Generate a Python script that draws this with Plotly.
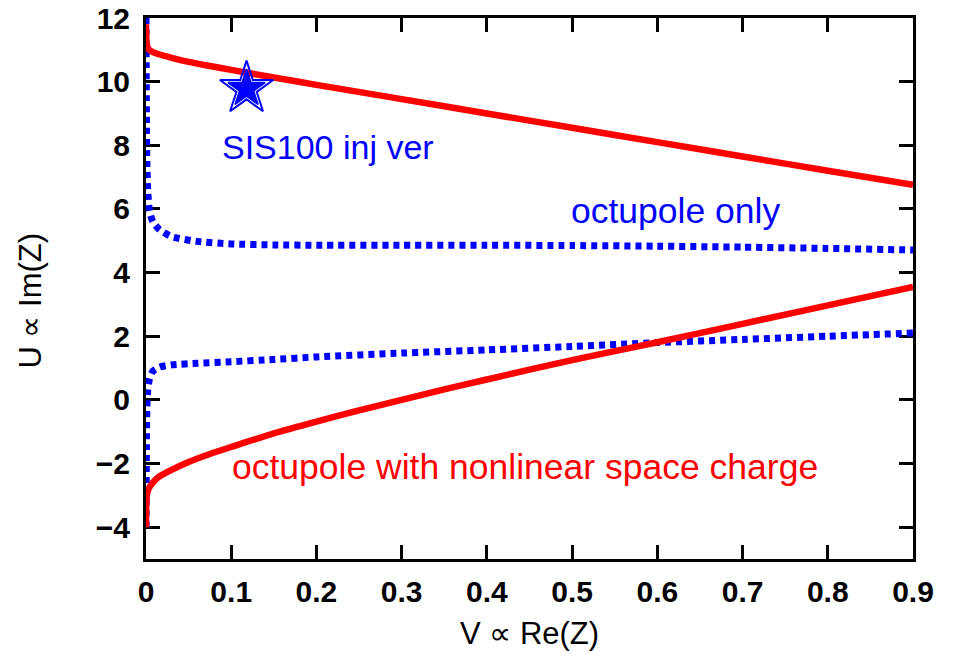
import plotly.graph_objects as go

# Stability boundaries: U (∝ Im Z) versus V (∝ Re Z)
oct_x = [0, 0.0005, 0.001, 0.002, 0.004, 0.008, 0.016, 0.03, 0.06, 0.1,
         0.15, 0.2, 0.3, 0.4, 0.5, 0.6, 0.7, 0.8, 0.9]
oct_upper = [12.0, 9.0, 7.5, 6.6, 5.95, 5.6, 5.35, 5.13, 4.98, 4.9,
             4.87, 4.86, 4.86, 4.86, 4.85, 4.83, 4.8, 4.76, 4.71]
oct_lower = [-4.0, -1.5, -0.3, 0.3, 0.65, 0.9, 1.03, 1.1, 1.15, 1.2,
             1.27, 1.35, 1.47, 1.57, 1.68, 1.8, 1.9, 2.0, 2.1]

sc_upper_x = [0, 0.0003, 0.001, 0.003, 0.008, 0.015, 0.03, 0.05, 0.075, 0.1,
              0.15, 0.2, 0.3, 0.4, 0.5, 0.6, 0.7, 0.8, 0.9]
sc_upper = [11.8, 11.4, 11.15, 11.02, 10.93, 10.86, 10.75, 10.62, 10.49, 10.37,
            10.13, 9.9, 9.45, 9.0, 8.55, 8.1, 7.65, 7.2, 6.76]
sc_lower_x = [0, 0.0003, 0.001, 0.003, 0.008, 0.015, 0.03, 0.05, 0.075, 0.1,
              0.15, 0.2, 0.25, 0.3, 0.35, 0.4, 0.45, 0.5, 0.55, 0.6,
              0.7, 0.8, 0.9]
sc_lower = [-4.0, -3.3, -3.0, -2.8, -2.6, -2.42, -2.2, -1.95, -1.7, -1.48,
            -1.05, -0.68, -0.33, 0.0, 0.33, 0.64, 0.95, 1.25, 1.53, 1.81,
            2.39, 2.97, 3.55]

# Working point
inj_point = (0.118, 9.78)

x_ticks = [0, 0.1, 0.2, 0.3, 0.4, 0.5, 0.6, 0.7, 0.8, 0.9]
x_tick_text = ["0", "0.1", "0.2", "0.3", "0.4", "0.5", "0.6", "0.7", "0.8", "0.9"]
y_ticks = [-4, -2, 0, 2, 4, 6, 8, 10, 12]

BLUE = "#0000ff"
RED = "#ff0000"
FONT = "Liberation Sans, Arial, sans-serif"

fig = go.Figure()

for ys in (oct_upper, oct_lower):
    fig.add_trace(go.Scatter(
        x=oct_x, y=ys, mode="lines",
        line=dict(color=BLUE, width=7, dash="6px,5px", shape="spline",
                  smoothing=0.6),
        showlegend=False, hoverinfo="skip"))

for xs, ys in ((sc_upper_x, sc_upper), (sc_lower_x, sc_lower)):
    fig.add_trace(go.Scatter(
        x=xs, y=ys, mode="lines",
        line=dict(color=RED, width=6.5, shape="spline", smoothing=0.6),
        showlegend=False, hoverinfo="skip"))

# double-outlined star: open outer star with a filled star inside
fig.add_trace(go.Scatter(
    x=[inj_point[0]], y=[inj_point[1]], mode="markers",
    marker=dict(symbol="star-open", size=40, color=BLUE,
                line=dict(color=BLUE, width=2)),
    showlegend=False, hoverinfo="skip", cliponaxis=False))
fig.add_trace(go.Scatter(
    x=[inj_point[0]], y=[inj_point[1]], mode="markers",
    marker=dict(symbol="star", size=28, color=BLUE,
                line=dict(color=BLUE, width=1.5)),
    showlegend=False, hoverinfo="skip", cliponaxis=False))

axis_common = dict(
    showline=True, linecolor="black", linewidth=3,
    ticks="inside", ticklen=14, tickwidth=3, tickcolor="black",
    mirror="ticks", showgrid=False, zeroline=False,
    layer="below traces", automargin=False,
    tickfont=dict(family=FONT, size=30, color="black", weight="bold"),
)

fig.update_xaxes(range=[0, 0.9], tickvals=x_ticks, ticktext=x_tick_text,
                 ticklabelstandoff=4, **axis_common)
fig.update_yaxes(range=[-5, 12], tickvals=y_ticks,
                 ticklabelstandoff=7, **axis_common)

annotations = [
    dict(text="SIS100 inj ver", x=0.087, y=7.95, font=dict(color=BLUE, size=34)),
    dict(text="octupole only", x=0.496, y=5.92, font=dict(color=BLUE, size=35.5)),
    dict(text="octupole with nonlinear space charge", x=0.099, y=-2.1,
         font=dict(color=RED, size=35.5)),
]
for a in annotations:
    a.update(xref="x", yref="y", xanchor="left", yanchor="middle",
             showarrow=False)
    a["font"]["family"] = FONT
    fig.add_annotation(**a)

# axis titles
fig.add_annotation(text="V ∝ Re(Z)", xref="paper", yref="paper",
                   x=0.5, y=0, yshift=-74, xanchor="center", yanchor="middle",
                   showarrow=False,
                   font=dict(family=FONT, size=31, color="black"))
fig.add_annotation(text="U ∝ Im(Z)", xref="paper", yref="paper",
                   x=0, y=0.5, xshift=-116, yshift=-12, textangle=-90,
                   xanchor="center", yanchor="middle", showarrow=False,
                   font=dict(family=FONT, size=31, color="black"))

fig.update_layout(
    width=957, height=654,
    margin=dict(l=146, r=44, t=18, b=95),
    plot_bgcolor="white", paper_bgcolor="white",
)

fig.write_html("out.html")
